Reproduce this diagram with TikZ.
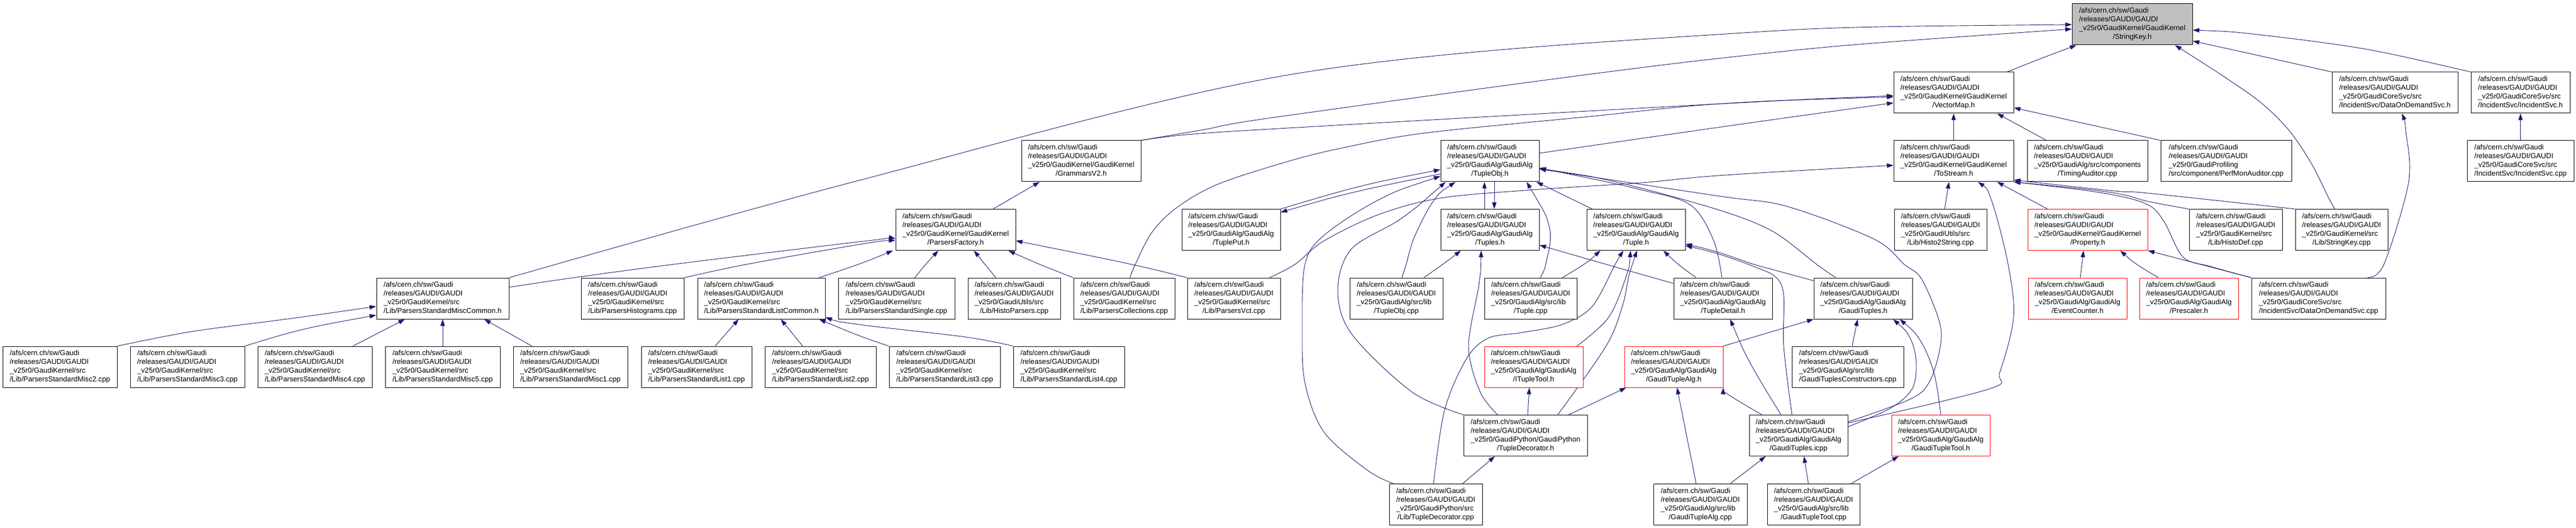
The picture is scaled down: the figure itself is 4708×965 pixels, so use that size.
\documentclass[tikz,border=0pt]{standalone}
\usepackage{fontspec}
\setmainfont{Liberation Sans}
\usetikzlibrary{arrows.meta}
\pgfdeclarelayer{edgelayer}
\pgfsetlayers{edgelayer,main}
\definecolor{edgeblue}{RGB}{25,25,112}
\definecolor{nodegray}{RGB}{191,191,191}
\newcommand{\lab}[2]{\begin{tabular}{@{}l@{}}/afs/cern.ch/sw/Gaudi\\/releases/GAUDI/GAUDI\\\_v25r0/#1\\\multicolumn{1}{@{}c@{}}{/#2}\end{tabular}}
\begin{document}
\begin{tikzpicture}[x=1pt,y=-1pt,
  box/.style={draw=black, line width=1pt, rectangle, inner sep=0pt, minimum height=75pt, font=\fontsize{13.2}{16}\selectfont, fill=white},
  trunc/.style={box, draw=red},
  root/.style={box, fill=nodegray},
  edge/.style={draw=edgeblue, line width=0.9pt, {Triangle[length=12pt,width=8pt]}-},
  sm/.style={smooth, tension=0.55}
]
\useasboundingbox (0,0) rectangle (4708,965);
% row 1
\node[root, minimum width=220pt] (sk) at (3897,44.5) {\lab{GaudiKernel/GaudiKernel}{StringKey.h}};
% row 2
\node[box, minimum width=219pt] (vm) at (3570.5,169.5) {\lab{GaudiKernel/GaudiKernel}{VectorMap.h}};
\node[box, minimum width=230pt] (dodh) at (4377,169.5) {\lab{GaudiCoreSvc/src}{IncidentSvc/DataOnDemandSvc.h}};
\node[box, minimum width=181pt] (ish) at (4606.5,169.5) {\lab{GaudiCoreSvc/src}{IncidentSvc/IncidentSvc.h}};
% row 3
\node[box, minimum width=218pt] (gv2) at (1976,294.5) {\lab{GaudiKernel/GaudiKernel}{GrammarsV2.h}};
\node[box, minimum width=180pt] (tobj) at (2723,294.5) {\lab{GaudiAlg/GaudiAlg}{TupleObj.h}};
\node[box, minimum width=219pt] (tos) at (3570.5,294.5) {\lab{GaudiKernel/GaudiKernel}{ToStream.h}};
\node[box, minimum width=220pt] (tim) at (3815,294.5) {\lab{GaudiAlg/src/components}{TimingAuditor.cpp}};
\node[box, minimum width=239pt] (pma) at (4068.5,294.5) {\lab{GaudiProfiling}{src/component/PerfMonAuditor.cpp}};
\node[box, minimum width=195pt] (iscpp) at (4606.5,294.5) {\lab{GaudiCoreSvc/src}{IncidentSvc/IncidentSvc.cpp}};
% row 4
\node[box, minimum width=219pt] (pf) at (1746.5,420) {\lab{GaudiKernel/GaudiKernel}{ParsersFactory.h}};
\node[box, minimum width=180pt] (tput) at (2250,420) {\lab{GaudiAlg/GaudiAlg}{TuplePut.h}};
\node[box, minimum width=180pt] (tups) at (2723,420) {\lab{GaudiAlg/GaudiAlg}{Tuples.h}};
\node[box, minimum width=180pt] (tup) at (2990,420) {\lab{GaudiAlg/GaudiAlg}{Tuple.h}};
\node[box, minimum width=169pt] (h2s) at (3546.5,420) {\lab{GaudiUtils/src}{Lib/Histo2String.cpp}};
\node[trunc, minimum width=219pt] (prop) at (3815.5,420) {\lab{GaudiKernel/GaudiKernel}{Property.h}};
\node[box, minimum width=170pt] (hdef) at (4086,420) {\lab{GaudiKernel/src}{Lib/HistoDef.cpp}};
\node[box, minimum width=169pt] (skcpp) at (4279.5,420) {\lab{GaudiKernel/src}{Lib/StringKey.cpp}};
% row 5
\node[box, minimum width=242pt] (mc) at (809,545.5) {\lab{GaudiKernel/src}{Lib/ParsersStandardMiscCommon.h}};
\node[box, minimum width=188pt] (phist) at (1156,545.5) {\lab{GaudiKernel/src}{Lib/ParsersHistograms.cpp}};
\node[box, minimum width=233pt] (lc) at (1391.5,545.5) {\lab{GaudiKernel/src}{Lib/ParsersStandardListCommon.h}};
\node[box, minimum width=213pt] (single) at (1638.5,545.5) {\lab{GaudiKernel/src}{Lib/ParsersStandardSingle.cpp}};
\node[box, minimum width=169pt] (hpars) at (1853.5,545.5) {\lab{GaudiUtils/src}{Lib/HistoParsers.cpp}};
\node[box, minimum width=185pt] (pcoll) at (2054.5,545.5) {\lab{GaudiKernel/src}{Lib/ParsersCollections.cpp}};
\node[box, minimum width=170pt] (pvct) at (2255,545.5) {\lab{GaudiKernel/src}{Lib/ParsersVct.cpp}};
\node[box, minimum width=170pt] (tobjcpp) at (2552,545.5) {\lab{GaudiAlg/src/lib}{TupleObj.cpp}};
\node[box, minimum width=169pt] (tupcpp) at (2797.5,545.5) {\lab{GaudiAlg/src/lib}{Tuple.cpp}};
\node[box, minimum width=180pt] (tdet) at (3149,545.5) {\lab{GaudiAlg/GaudiAlg}{TupleDetail.h}};
\node[box, minimum width=180pt] (gts) at (3405,545.5) {\lab{GaudiAlg/GaudiAlg}{GaudiTuples.h}};
\node[trunc, minimum width=180pt] (evc) at (3797,545.5) {\lab{GaudiAlg/GaudiAlg}{EventCounter.h}};
\node[trunc, minimum width=181pt] (presc) at (4000.5,545.5) {\lab{GaudiAlg/GaudiAlg}{Prescaler.h}};
\node[box, minimum width=245pt] (dodcpp) at (4237.5,545.5) {\lab{GaudiCoreSvc/src}{IncidentSvc/DataOnDemandSvc.cpp}};
% row 6
\node[box, minimum width=209pt] (m2) at (109.5,670.5) {\lab{GaudiKernel/src}{Lib/ParsersStandardMisc2.cpp}};
\node[box, minimum width=209pt] (m3) at (342.5,670.5) {\lab{GaudiKernel/src}{Lib/ParsersStandardMisc3.cpp}};
\node[box, minimum width=209pt] (m4) at (575.5,670.5) {\lab{GaudiKernel/src}{Lib/ParsersStandardMisc4.cpp}};
\node[box, minimum width=210pt] (m5) at (809,670.5) {\lab{GaudiKernel/src}{Lib/ParsersStandardMisc5.cpp}};
\node[box, minimum width=209pt] (m1) at (1042.5,670.5) {\lab{GaudiKernel/src}{Lib/ParsersStandardMisc1.cpp}};
\node[box, minimum width=202pt] (l1) at (1273,670.5) {\lab{GaudiKernel/src}{Lib/ParsersStandardList1.cpp}};
\node[box, minimum width=203pt] (l2) at (1499.5,670.5) {\lab{GaudiKernel/src}{Lib/ParsersStandardList2.cpp}};
\node[box, minimum width=203pt] (l3) at (1726.5,670.5) {\lab{GaudiKernel/src}{Lib/ParsersStandardList3.cpp}};
\node[box, minimum width=203pt] (l4) at (1953.5,670.5) {\lab{GaudiKernel/src}{Lib/ParsersStandardList4.cpp}};
\node[trunc, minimum width=180pt] (itt) at (2803,670.5) {\lab{GaudiAlg/GaudiAlg}{ITupleTool.h}};
\node[trunc, minimum width=180pt] (gta) at (3059,670.5) {\lab{GaudiAlg/GaudiAlg}{GaudiTupleAlg.h}};
\node[box, minimum width=204pt] (gtcons) at (3377,670.5) {\lab{GaudiAlg/src/lib}{GaudiTuplesConstructors.cpp}};
% row 7
\node[box, minimum width=226pt] (tdech) at (2788,796) {\lab{GaudiPython/GaudiPython}{TupleDecorator.h}};
\node[box, minimum width=180pt] (gticpp) at (3287,796) {\lab{GaudiAlg/GaudiAlg}{GaudiTuples.icpp}};
\node[trunc, minimum width=180pt] (gtt) at (3547,796) {\lab{GaudiAlg/GaudiAlg}{GaudiTupleTool.h}};
% row 8
\node[box, minimum width=170pt] (tdeccpp) at (2624,922) {\lab{GaudiPython/src}{Lib/TupleDecorator.cpp}};
\node[box, minimum width=171pt] (gtacpp) at (3107.5,922) {\lab{GaudiAlg/src/lib}{GaudiTupleAlg.cpp}};
\node[box, minimum width=169pt] (gttcpp) at (3314.5,922) {\lab{GaudiAlg/src/lib}{GaudiTupleTool.cpp}};

\begin{pgfonlayer}{edgelayer}
\fill[white] (0,0) rectangle (4708,965);
% ---- edges into StringKey.h
\draw[edge] plot[sm] coordinates {(sk.south -| 3795,0) (3730,107) (vm.north -| 3668,0)};
\draw[edge] plot[sm] coordinates {(sk.west |- 0,45) (3139,63) (2354,137) (1569,330) (mc.north east)};
\draw[edge] plot[sm] coordinates {(sk.west |- 0,53) (3139,107) (2354,211) (2200,237) (gv2.north east)};
\draw[edge] plot[sm] coordinates {(sk.east |- 0,75) (4130,102) (dodh.north west)};
\draw[edge] plot[sm] coordinates {(sk.east |- 0,55) (4125,63) (4325,90) (ish.north west)};
\draw[edge] plot[sm] coordinates {(sk.south -| 3975,0) (4075,147) (4135,190) (4185,240) (4225,300) (4255,360) (skcpp.north -| 4267,0)};
% ---- VectorMap.h
\draw[edge] plot[sm] coordinates {(vm.west |- 0,175) (3139,190) (2354,234) (2170,246) (gv2.north east)};
\draw[edge] plot[sm] coordinates {(vm.west |- 0,177) (3139,190) (2905,213) (2605,243) (2455,270) (2354,295) (2225,337) (2150,380) (2105,425) (2075,483) (pcoll.north -| 2065,0)};
\draw[edge] plot[sm] coordinates {(vm.west |- 0,188) (3139,233) (tobj.east |- 0,280)};
\draw[edge] (vm.south) -- (tos.north);
\draw[edge] (vm.south -| 3650,0) -- (tim.north -| 3740,0);
\draw[edge] (vm.east |- 0,197) -- (pma.north west);
% ---- DataOnDemandSvc.h, IncidentSvc.h
\draw[edge] plot[sm] coordinates {(dodh.south -| 4390,0) (4397,240) (4402,333) (4357,483) (dodcpp.north -| 4327,0)};
\draw[edge] (ish.south) -- (iscpp.north);
% ---- ToStream.h
\draw[edge] plot[sm] coordinates {(tos.west |- 0,302) (3140,321) (3000,334) (2800,347) (2633,362) (2520,392) (2420,440) (2367,483) (pvct.north -| 2320,0)};
\draw[edge] (tos.south -| 3562,0) -- (h2s.north -| 3554,0);
\draw[edge] (tos.south -| 3650,0) -- (prop.north -| 3742,0);
\draw[edge] plot[sm] coordinates {(tos.south -| 3615,0) (3640,367) (3670,483) (3680,580) (3655,680) (3635,711) (gticpp.east |- 0,773)};
\draw[edge] plot[sm] coordinates {(tos.east |- 0,329) (3865,349) (3925,353) (skcpp.north west)};
\draw[edge] plot[sm] coordinates {(tos.south east) (3860,352) (3925,368) (hdef.north west)};
\draw[edge] plot[sm] coordinates {(tos.south east) (3850,354) (3925,374) (3955,405) (3990,470) (4040,487) (dodcpp.north west)};
% ---- Property.h
\draw[edge] (prop.south east) -- (dodcpp.north west);
\draw[edge] (prop.south -| 3808,0) -- (evc.north -| 3802,0);
\draw[edge] plot[sm] coordinates {(prop.south -| 3875,0) (3905,483) (presc.north -| 3945,0)};
% ---- GrammarsV2.h, ParsersFactory.h
\draw[edge] (gv2.south -| 1900,0) -- (pf.north -| 1815,0);
\draw[edge] plot[sm] coordinates {(pf.west |- 0,436) (1569,442) (1232,483) (1045,508) (mc.east |- 0,525)};
\draw[edge] plot[sm] coordinates {(pf.west |- 0,439) (1569,447) (1365,483) (phist.north east)};
\draw[edge] plot[sm] coordinates {(pf.south -| 1632,0) (1569,483) (lc.north -| 1497,0)};
\draw[edge] plot[sm] coordinates {(pf.south -| 1715,0) (1692,483) (single.north -| 1672,0)};
\draw[edge] plot[sm] coordinates {(pf.south -| 1780,0) (1800,483) (hpars.north -| 1820,0)};
\draw[edge] plot[sm] coordinates {(pf.south -| 1843,0) (1900,483) (pcoll.north west)};
\draw[edge] plot[sm] coordinates {(pf.east |- 0,440) (2067,483) (pvct.north west)};
% ---- MiscCommon
\draw[edge] plot[sm] coordinates {(mc.west |- 0,560) (525,583) (350,606) (m2.north east)};
\draw[edge] plot[sm] coordinates {(mc.west |- 0,576) (550,603) (m3.north east)};
\draw[edge] (mc.south -| 740,0) -- (m4.north -| 645,0);
\draw[edge] (mc.south) -- (m5.north);
\draw[edge] (mc.south -| 885,0) -- (m1.north -| 972,0);
% ---- ListCommon
\draw[edge] (lc.south -| 1350,0) -- (l1.north -| 1307,0);
\draw[edge] (lc.south -| 1427,0) -- (l2.north -| 1467,0);
\draw[edge] plot[sm] coordinates {(lc.south -| 1497,0) (1569,613) (l3.north west)};
\draw[edge] plot[sm] coordinates {(lc.east |- 0,580) (1569,593) (1765,616) (l4.north west)};
% ---- TupleObj.h
\draw[edge] (tobj.south -| 2713,0) -- (tups.north -| 2713,0);
\draw[edge] (tups.north -| 2731,0) -- (tobj.south -| 2731,0);
\draw[edge] plot[sm] coordinates {(tput.east |- 0,388) (2480,350) (tobj.west |- 0,318)};
\draw[edge] plot[sm] coordinates {(tobj.west |- 0,310) (2480,342) (tput.north east)};
\draw[edge] (tobj.south -| 2808,0) -- (tup.north -| 2910,0);
\draw[edge] plot[sm] coordinates {(tobj.south -| 2660,0) (2620,367) (2585,433) (2570,483) (tobjcpp.north -| 2562,0)};
\draw[edge] plot[sm] coordinates {(tobj.south -| 2790,0) (2832,417) (2825,483) (tupcpp.north -| 2815,0)};
\draw[edge] plot[sm] coordinates {(tobj.south -| 2642,0) (2560,400) (2470,455) (2445,530) (2470,610) (2580,716) (tdech.north west)};
\draw[edge] plot[sm] coordinates {(tobj.west |- 0,322) (2520,365) (2420,430) (2385,483) (2380,600) (2385,700) (2420,790) (2500,860) (tdeccpp.north -| 2547,0)};
\draw[edge] plot[sm] coordinates {(tobj.east |- 0,307) (3000,347) (3090,375) (3132,440) (tdet.north -| 3147,0)};
\draw[edge] plot[sm] coordinates {(tobj.east |- 0,308) (2955,333) (3139,383) (3240,423) (3320,483) (gts.north -| 3355,0)};
\draw[edge] plot[sm] coordinates {(tobj.east |- 0,309) (3139,358) (3265,377) (3425,437) (3480,483) (3512,510) (3545,590) (3545,640) (3525,700) (3490,730) (gticpp.east |- 0,771)};
% ---- Tuples.h
\draw[edge] plot[sm] coordinates {(tups.south -| 2670,0) (2637,483) (tobjcpp.north -| 2602,0)};
\draw[edge] plot[sm] coordinates {(tups.south -| 2707,0) (2703,520) (2684,633) (2705,716) (tdech.north -| 2737,0)};
\draw[edge] plot[sm] coordinates {(tups.east |- 0,448) (2935,483) (tdet.west |- 0,518)};
% ---- Tuple.h
\draw[edge] plot[sm] coordinates {(tup.south -| 2925,0) (2895,483) (tupcpp.north -| 2855,0)};
\draw[edge] plot[sm] coordinates {(tup.south -| 2967,0) (2952,483) (2910,560) (2855,593) (2780,608) (2720,618) (2680,656) (2640,750) (tdeccpp.north -| 2620,0)};
\draw[edge] plot[sm] coordinates {(tup.south -| 2980,0) (2972,505) (2940,580) (itt.north -| 2882,0)};
\draw[edge] plot[sm] coordinates {(tup.south -| 2992,0) (2978,500) (2965,560) (2935,633) (tdech.north -| 2847,0)};
\draw[edge] plot[sm] coordinates {(tup.south -| 3040,0) (3067,483) (tdet.north -| 3100,0)};
\draw[edge] plot[sm] coordinates {(tup.east |- 0,446) (3140,461) (3205,483) (3252,496) (gts.west |- 0,513)};
\draw[edge] plot[sm] coordinates {(tup.east |- 0,449) (3140,464) (3200,485) (3245,506) (3260,540) (3260,633) (gticpp.north -| 3275,0)};
% ---- lower Tuple part
\draw[edge] (itt.south -| 2795,0) -- (tdech.north -| 2792,0);
\draw[edge] (gta.south -| 2972,0) -- (tdech.north -| 2867,0);
\draw[edge] (gta.south -| 3065,0) -- (gtacpp.north -| 3100,0);
\draw[edge] plot[sm] coordinates {(gta.south east) (3160,722) (gticpp.north -| 3220,0)};
\draw[edge] (gts.south west) -- (gta.north east);
\draw[edge] (gts.south -| 3395,0) -- (gtcons.north -| 3385,0);
\draw[edge] plot[sm] coordinates {(gts.south -| 3460,0) (3490,616) (3502,660) (3495,710) (3455,746) (gticpp.east |- 0,780)};
\draw[edge] plot[sm] coordinates {(gts.south -| 3472,0) (3510,623) (3535,683) (gtt.north)};
\draw[edge] (gticpp.south -| 3227,0) -- (gtacpp.north -| 3162,0);
\draw[edge] (gticpp.south -| 3297,0) -- (gttcpp.north -| 3305,0);
\draw[edge] (gtt.south -| 3470,0) -- (gttcpp.north -| 3383,0);
\draw[edge] plot[sm] coordinates {(tdet.south -| 3162,0) (3200,666) (gticpp.north -| 3255,0)};
\draw[edge] (tdech.south -| 2732,0) -- (tdeccpp.north -| 2673,0);
\end{pgfonlayer}
\end{tikzpicture}
\end{document}
